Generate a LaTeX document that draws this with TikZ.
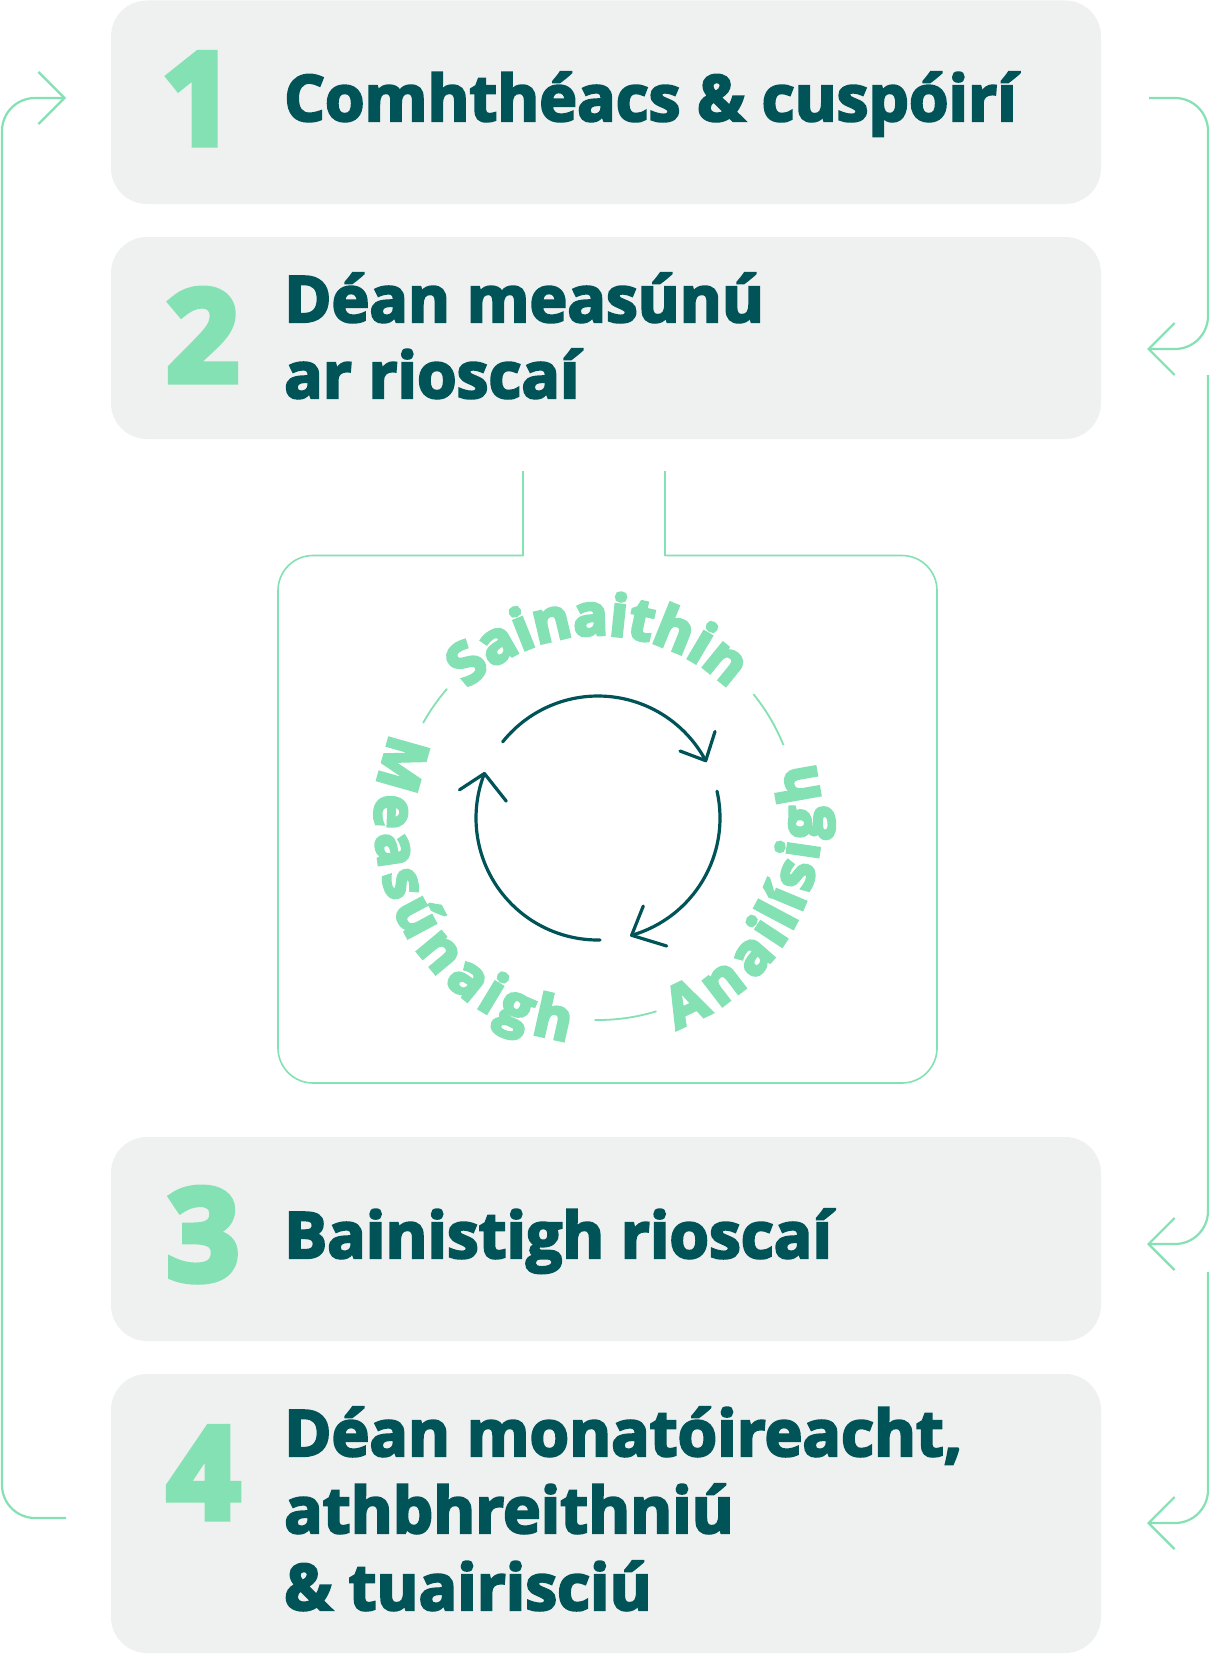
\documentclass[tikz,border=0pt]{standalone}
\usepackage{fontspec}
\usetikzlibrary{calc,decorations.text,arrows.meta}
\newfontfamily\osans{Open Sans}[BoldFeatures={FakeBold=3.5}]
\newfontfamily\osring{Open Sans}[BoldFeatures={FakeBold=5.5}]
\newcommand\xb{\osans\bfseries}
\definecolor{darkteal}{HTML}{005458}
\definecolor{mint}{HTML}{84E1B4}
\definecolor{boxgray}{HTML}{EFF1F0}
\newcommand\ringfont{\osring\bfseries\fontsize{57}{57}\selectfont}
\begin{document}
\begin{tikzpicture}[x=1pt,y=1pt,
  box/.style={fill=boxgray, draw=none, rounded corners=36pt, inner sep=0pt, outer sep=0pt, minimum width=990pt},
  num/.style={font=\osring\bfseries\fontsize{127}{127}\selectfont, text=mint, inner sep=0pt, anchor=base},
  lbl/.style={font=\xb\fontsize{64}{76}\selectfont, text=darkteal, inner sep=0pt, anchor=base west},
  gline/.style={draw=mint, line width=2.2pt, rounded corners=33pt},
  gtip/.style={-{Straight Barb[length=26pt,width=52pt]}},
  cline/.style={draw=mint, line width=1.6pt},
  rline/.style={draw=mint, line width=1.8pt},
  darc/.style={draw=darkteal, line width=3.2pt, line cap=round, line join=round},
  ringtext/.style={decorate, decoration={text along path, text align=center, text color=mint, #1}}
]
\path[fill=white, use as bounding box] (0,0) rectangle (1211,-1654);

% boxes
\node[box, minimum height=203.5pt] (b1) at (606,-102.25) {};
\node[box, minimum height=202pt] (b2) at (606,-338) {};
\node[box, minimum height=204pt] (b3) at (606,-1239) {};
\node[box, minimum height=279pt] (b4) at (606,-1513.5) {};

% numbers and labels
\node[num] (n1) at (198,-144) {1};
\node[lbl] (t1) at (284,-121) {Comhthéacs \& cuspóirí};
\node[num] (n2) at (202.5,-381) {2};
\node[lbl] (t2a) at (284,-322) {Déan measúnú};
\node[lbl] (t2b) at (284,-398) {ar rioscaí};
\node[num] (n3) at (203,-1280) {3};
\node[lbl] (t3) at (284,-1258) {Bainistigh rioscaí};
\node[num] (n4) at (203.5,-1518) {4};
\node[lbl] (t4a) at (284,-1456) {Déan monatóireacht,};
\node[lbl] (t4b) at (284,-1533) {athbhreithniú};
\node[lbl] (t4c) at (284,-1610) {\& tuairisciú};

% loop connectors
\coordinate (L0) at (66,-1518);
\coordinate (L1) at (66,-98);
\draw[gline, gtip] (L0) -- (2,-1518) -- (2,-98) -- (L1);
\coordinate (R1s) at (1149,-98);
\coordinate (R1e) at (1147,-349);
\draw[gline, gtip] (R1s) -- (1208,-98) -- (1208,-349) -- (R1e);
\coordinate (R2s) at (1208,-375);
\coordinate (R2e) at (1147,-1244);
\draw[gline, gtip] (R2s) -- (1208,-1244) -- (R2e);
\coordinate (R3s) at (1208,-1272);
\coordinate (R3e) at (1147,-1523);
\draw[gline, gtip] (R3s) -- (1208,-1523) -- (R3e);

% bracket box below step 2
\coordinate (k1) at (523,-471);
\coordinate (k2) at (665,-471);
\draw[cline] (k1) -- (523,-555.5);
\draw[cline, rounded corners=35pt] (523,-555.5) -- (278,-555.5) -- (278,-1083) -- (937,-1083) -- (937,-555.5) -- (665,-555.5);
\draw[cline] (665,-555.5) -- (k2);

% ring
\coordinate (rc) at (598,-820);
\path[ringtext={text={|\ringfont|Sainaithin}}] (rc) ++(170:185) arc[start angle=170, end angle=10, radius=185];
\path[ringtext={text={|\ringfont|Measúnaigh}, raise=-38pt}] (rc) ++(139.5:185) arc[start angle=139.5, end angle=279.5, radius=185];
\path[ringtext={text={|\ringfont|Anailísigh}, raise=-38pt}] (rc) ++(-87.3:185) arc[start angle=-87.3, end angle=32.7, radius=185];
\draw[rline] (rc) ++(139:200) arc[start angle=139, end angle=151, radius=200];
\draw[rline] (rc) ++(22:200) arc[start angle=22, end angle=39, radius=200];
\draw[rline] (rc) ++(-91:200) arc[start angle=-91, end angle=-73, radius=200];

% cycle arrows
\coordinate (cc) at (598,-818);
\draw[darc] (cc) ++(141.4:122) arc[start angle=141.4, end angle=28, radius=122];
\draw[darc] (680,-751) -- (705.7,-760.7) -- (715,-731.5);
\draw[darc] (cc) ++(12.7:122) arc[start angle=12.7, end angle=-74, radius=122];
\draw[darc] (643.3,-906) -- (631.6,-935.3) -- (666.7,-946);
\draw[darc] (cc) ++(-89:122) arc[start angle=-89, end angle=-201.4, radius=122];
\draw[darc] (459.5,-789.8) -- (484.4,-773.5) -- (506.3,-801.2);
\end{tikzpicture}
\end{document}
